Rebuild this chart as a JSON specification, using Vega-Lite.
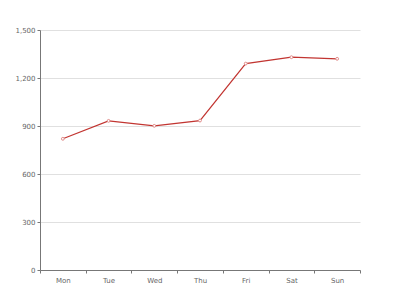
{
  "$schema": "https://vega.github.io/schema/vega-lite/v6.json",
  "autosize": {"type": "none"},
  "width": 320,
  "height": 240,
  "padding": {"left": 40, "top": 30, "right": 40, "bottom": 30},
  "background": "white",
  "config": {"view": {"stroke": null}, "font": "DejaVu Sans"},
  "data": {
    "values": [
      {"day": "Mon", "value": 820},
      {"day": "Tue", "value": 932},
      {"day": "Wed", "value": 901},
      {"day": "Thu", "value": 934},
      {"day": "Fri", "value": 1290},
      {"day": "Sat", "value": 1330},
      {"day": "Sun", "value": 1320}
    ]
  },
  "encoding": {
    "x": {
      "field": "day",
      "type": "nominal",
      "sort": null,
      "bandPosition": 0.5,
      "scale": {"type": "band", "paddingInner": 0, "paddingOuter": 0},
      "axis": {
        "title": null,
        "labelAngle": 0,
        "tickBand": "extent",
        "labelFontSize": 7,
        "labelColor": "#666",
        "domainColor": "#777",
        "tickColor": "#777",
        "tickSize": 3,
        "labelPadding": 3,
        "grid": false
      }
    },
    "y": {
      "field": "value",
      "type": "quantitative",
      "scale": {"domain": [0, 1500], "nice": false},
      "axis": {
        "title": null,
        "values": [0, 300, 600, 900, 1200, 1500],
        "format": ",.0f",
        "labelFontSize": 7,
        "labelColor": "#666",
        "domainColor": "#777",
        "tickColor": "#777",
        "tickSize": 3,
        "labelPadding": 2,
        "gridColor": "#e0e0e0",
        "gridWidth": 1
      }
    }
  },
  "layer": [
    {
      "mark": {"type": "line", "color": "#c23531", "strokeWidth": 1.2}
    },
    {
      "mark": {"type": "point", "shape": "circle", "filled": true, "fill": "white", "stroke": "#e08b89", "strokeWidth": 1, "size": 8, "opacity": 1}
    }
  ]
}
